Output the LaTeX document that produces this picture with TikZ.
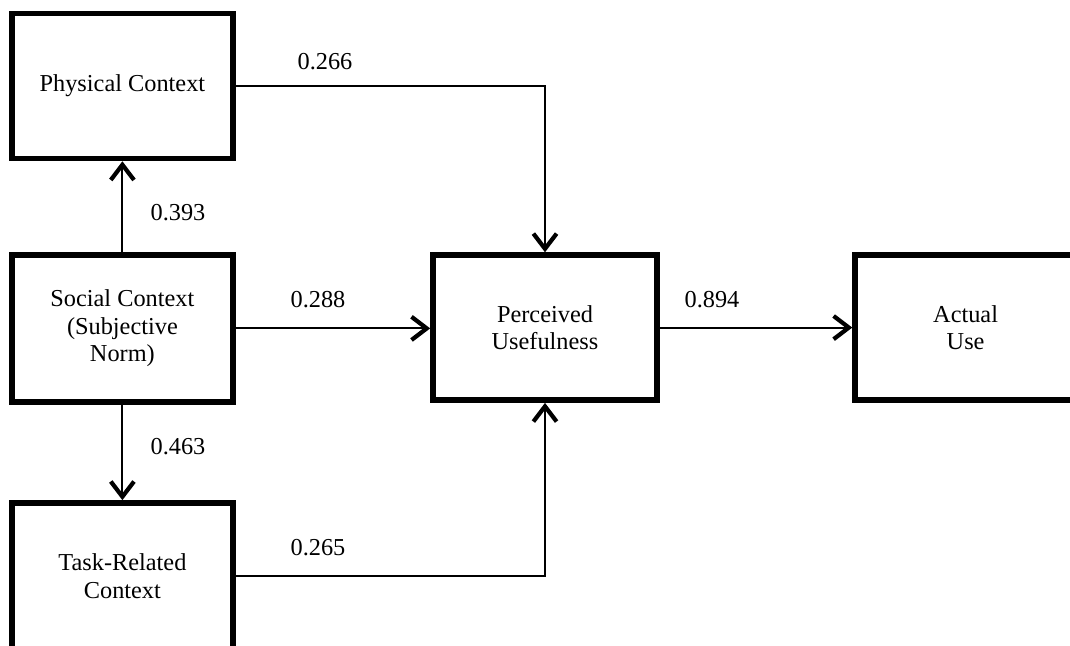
\documentclass[tikz,border=0pt]{standalone}
\usepackage{fontspec}
\setmainfont{Liberation Serif}
\usetikzlibrary{arrows.meta,positioning}

\begin{document}
\begin{tikzpicture}[
  construct/.style={rectangle,draw,line width=4pt,minimum width=5.525cm,
    minimum height=3.625cm,align=center,font=\fontsize{17.3}{19.6}\selectfont,
    inner sep=2pt},
  path/.style={-{Straight Barb[length=3.8mm,width=5.8mm,line width=3pt]},
    line width=1.5pt},
  coef/.style={font=\fontsize{17.3}{19.6}\selectfont,inner sep=0pt}
]
  \useasboundingbox (0,0) rectangle (26.75,16.15);

  \node[construct] (phys) at (3.06,14.0) {Physical Context};
  \node[construct,minimum height=3.675cm] (social) at (3.06,7.94)
    {Social Context\\(Subjective\\Norm)};
  \node[construct,minimum height=3.65cm] (task) at (3.06,1.75)
    {Task-Related\\Context};
  \node[construct,minimum width=5.6cm] (pu) at (13.625,7.96)
    {Perceived\\Usefulness};
  \node[construct] (use) at (24.14,7.96) {Actual\\Use};

  \draw[path] (social.north) -- (phys.south);
  \draw[path] (social.south) -- (task.north);
  \draw[path] (phys.east) -| (pu.north);
  \draw[path] (social.east) -- (pu.west |- social.east);
  \draw[path] (task.east) -| (pu.south);
  \draw[path] (pu.east) -- (use.west);

  \node[coef] (c266) at (8.125,14.6) {0.266};
  \node[coef] (c393) at (4.45,10.825) {0.393};
  \node[coef] (c288) at (7.95,8.65) {0.288};
  \node[coef] (c463) at (4.45,4.975) {0.463};
  \node[coef] (c265) at (7.95,2.45) {0.265};
  \node[coef] (c894) at (17.8,8.65) {0.894};
\end{tikzpicture}
\end{document}
